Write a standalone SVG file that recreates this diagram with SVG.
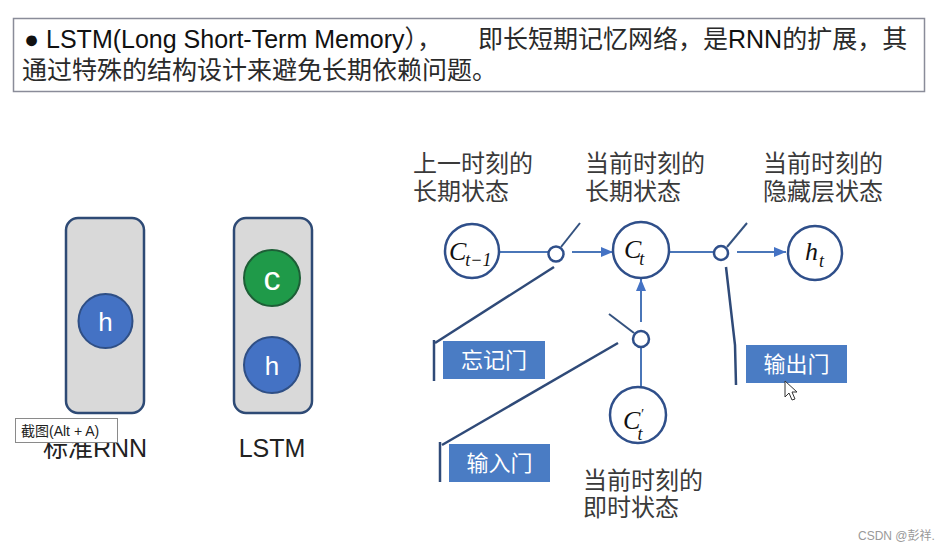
<svg xmlns="http://www.w3.org/2000/svg" width="951" height="552" viewBox="0 0 951 552">
<defs>
<style>
.cjk{font-family:"Noto Sans CJK SC","Liberation Sans",sans-serif;fill:#3a3a3a;font-size:24px}
.lat{font-family:"Liberation Sans",Arial,sans-serif}
.math{font-family:"Liberation Serif","DejaVu Serif",serif;font-style:italic;fill:#111;font-size:26px}
.sub{font-size:18px}
.node{fill:#fff;stroke:#2f4f8a;stroke-width:2.5}
.gate{fill:#fff;stroke:#2f4f8a;stroke-width:2.5}
.blade{stroke:#34527f;stroke-width:2;fill:none}
.wire{stroke:#4a76b8;stroke-width:2;fill:none}
.gl{stroke:#2f4a78;stroke-width:2.5;fill:none}
.gbox{fill:#4a7cc4}
.gtxt{font-family:"Noto Sans CJK SC",sans-serif;font-size:22px;fill:#fff;text-anchor:middle}
.cell{fill:#d9d9d9;stroke:#2e4a75;stroke-width:2.5}
.h{fill:#4472c4;stroke:#2f4f85;stroke-width:2}
</style>
<marker id="ah" viewBox="0 0 12 10" refX="12" refY="5" markerWidth="12" markerHeight="10" markerUnits="userSpaceOnUse" orient="auto">
<path d="M0,0 L12,5 L0,10 Z" fill="#4472c4"/>
</marker>
</defs>
<rect width="951" height="552" fill="#fff"/>

<g id="header">
<rect x="13.5" y="18.5" width="911" height="73" fill="#fff" stroke="#8a8c99" stroke-width="1.5"/>
<text y="48" font-size="25" fill="#111" class="lat"><tspan x="24">● LSTM(Long Short-Term Memory</tspan><tspan class="cjk" style="font-size:25px;fill:#2a2a2a">），</tspan></text>
<text y="48" class="cjk" style="font-size:25px;fill:#2a2a2a"><tspan x="478">即长短期记忆网络，是</tspan><tspan class="lat" style="fill:#111;font-size:25px">RNN</tspan><tspan>的扩展，其</tspan></text>
<text x="22" y="79" class="cjk" style="font-size:25px;fill:#2a2a2a">通过特殊的结构设计来避免长期依赖问题。</text>
</g>

<g id="rnn">
<rect class="cell" x="66" y="218" width="78" height="195" rx="12"/>
<circle class="h" cx="105.5" cy="321" r="27"/>
<text x="105.5" y="331" class="lat" font-size="26" fill="#fff" text-anchor="middle">h</text>
<text x="95" y="457" class="cjk" style="font-size:25px;fill:#222" text-anchor="middle">标准<tspan class="lat">RNN</tspan></text>
</g>

<g id="lstm">
<rect class="cell" x="234" y="218" width="78" height="195" rx="12"/>
<circle cx="272" cy="278" r="28" fill="#1f9a49" stroke="#1d5e36" stroke-width="2"/>
<text x="272" y="290" class="lat" font-size="34" fill="#fff" text-anchor="middle">c</text>
<circle class="h" cx="272" cy="365" r="28"/>
<text x="272" y="375" class="lat" font-size="26" fill="#fff" text-anchor="middle">h</text>
<text x="272" y="457" class="lat" font-size="25" fill="#222" text-anchor="middle">LSTM</text>
</g>

<g id="tooltip">
<rect x="15.5" y="418.5" width="102" height="24" fill="#fff" stroke="#8a8a8a" stroke-width="1"/>
<text x="21" y="436" class="cjk" style="font-size:14px;fill:#222">截图<tspan class="lat">(Alt + A)</tspan></text>
</g>

<g id="labels">
<text x="413" y="172" class="cjk">上一时刻的</text>
<text x="413" y="200" class="cjk">长期状态</text>
<text x="585" y="172" class="cjk">当前时刻的</text>
<text x="585" y="200" class="cjk">长期状态</text>
<text x="763" y="172" class="cjk">当前时刻的</text>
<text x="763" y="200" class="cjk">隐藏层状态</text>
<text x="583" y="489" class="cjk">当前时刻的</text>
<text x="583" y="516" class="cjk">即时状态</text>
</g>

<g id="connectors">
<line class="wire" x1="500" y1="252" x2="548" y2="252"/>
<line class="wire" x1="572" y1="252" x2="613" y2="252" marker-end="url(#ah)"/>
<line class="wire" x1="669" y1="252" x2="714" y2="252"/>
<line class="wire" x1="737" y1="252" x2="786" y2="252" marker-end="url(#ah)"/>
<line class="wire" x1="641" y1="322" x2="641" y2="279" marker-end="url(#ah)"/>
<line class="wire" x1="641" y1="347" x2="641" y2="387"/>
<line class="blade" x1="561" y1="247" x2="580" y2="223"/>
<line class="blade" x1="727" y1="247" x2="747" y2="223"/>
<line class="blade" x1="634" y1="333" x2="609" y2="314"/>
<polyline class="gl" points="554,267 435,343"/>
<line class="gl" x1="434" y1="340" x2="434" y2="381"/>
<polyline class="gl" points="618,343 442,445"/>
<line class="gl" x1="440" y1="442" x2="440" y2="482"/>
<polyline class="gl" points="726,267 735,345 736,385"/>
</g>

<g id="gate_forget"><circle class="gate" cx="556" cy="254" r="7.5"/></g>
<g id="gate_input"><circle class="gate" cx="641" cy="339" r="8"/></g>
<g id="gate_output"><circle class="gate" cx="721" cy="253" r="7"/></g>

<g id="c_prev">
<circle class="node" cx="472" cy="251" r="27"/>
<text x="449" y="260" class="math">C<tspan class="sub" dx="-1" dy="6">t−1</tspan></text>
</g>
<g id="c_t">
<circle class="node" cx="641" cy="250" r="28"/>
<text x="624" y="258" class="math">C<tspan class="sub" dx="-2" dy="7">t</tspan></text>
</g>
<g id="h_t">
<circle class="node" cx="815" cy="253" r="27"/>
<text x="805" y="260" class="math">h<tspan class="sub" dx="1" dy="7">t</tspan></text>
</g>
<g id="c_cand">
<circle class="node" cx="638" cy="415" r="28"/>
<text x="623" y="429" class="math">C<tspan style="font-size:14px" dx="0" dy="-10">′</tspan><tspan class="sub" dx="-6" dy="21">t</tspan></text>
</g>

<g id="forget_gate">
<rect class="gbox" x="443" y="341" width="102" height="38"/>
<text x="494" y="368" class="gtxt">忘记门</text>
</g>
<g id="input_gate">
<rect class="gbox" x="449" y="444" width="101" height="38"/>
<text x="499.5" y="471" class="gtxt">输入门</text>
</g>
<g id="output_gate">
<rect class="gbox" x="746" y="345" width="101" height="38"/>
<text x="796.5" y="372" class="gtxt">输出门</text>
</g>

<g id="cursor">
<path d="M785,381 L785,397 L789,393 L792,400 L795,399 L792,392 L797,392 Z" fill="#fff" stroke="#333" stroke-width="1"/>
</g>

<text x="858" y="540" font-family="'Liberation Sans','Noto Sans CJK SC',sans-serif" font-size="12" fill="#999">CSDN @彭祥.</text>
</svg>
